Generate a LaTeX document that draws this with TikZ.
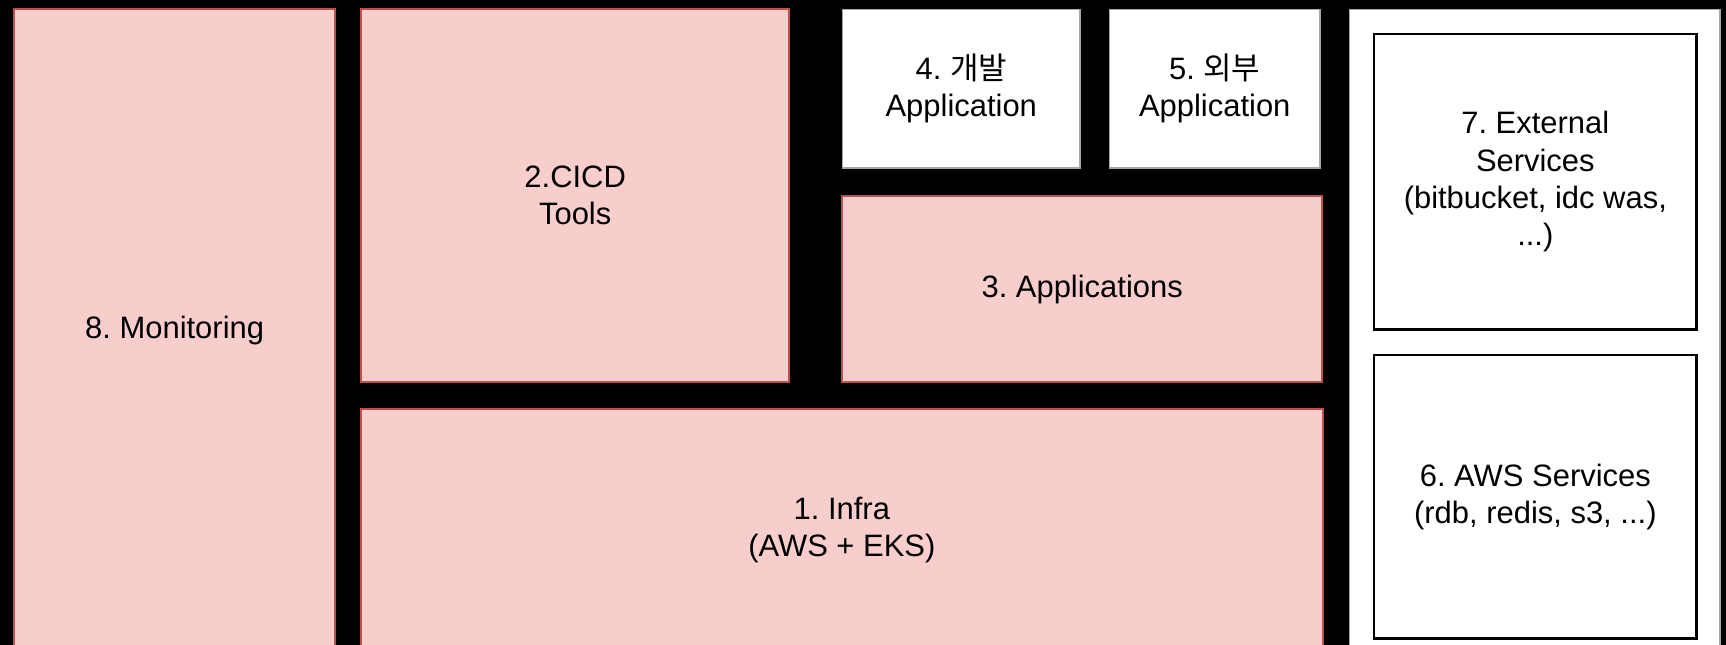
\documentclass[tikz,border=0pt]{standalone}
\usepackage{fontspec}
\setmainfont{Liberation Sans}
\newfontfamily\krfont{Noto Sans CJK KR}
\usetikzlibrary{positioning}
\definecolor{layerfill}{HTML}{F8CECC}
\definecolor{layerline}{HTML}{B85450}
\frenchspacing

\begin{document}
\begin{tikzpicture}[x=0.01cm,y=-0.01cm,font=\fontsize{8.8}{10.6}\selectfont,
  layer/.style={draw=layerline,fill=layerfill,line width=0.6pt,align=center,anchor=north west,inner sep=0pt},
  appbox/.style={draw=black!35,fill=white,line width=0.4pt,align=center,anchor=north west,inner sep=0pt},
  svcbox/.style={draw=black,fill=white,line width=0.7pt,align=center,anchor=north west,inner sep=0pt}]
\useasboundingbox (0,0) rectangle (1726,645);
\clip (0,0) rectangle (1726,645);
\fill[black] (0,0) rectangle (1726,645);
\node[layer,minimum width=3.21cm,minimum height=6.42cm] (mon) at (13,8) {8. Monitoring};
\node[layer,minimum width=4.28cm,minimum height=3.73cm] (cicd) at (360,8) {2.CICD\\ Tools};
\node[appbox,minimum width=2.37cm,minimum height=1.58cm] (dev) at (842,9) {4. {\krfont 개발}\\ Application};
\node[appbox,minimum width=2.10cm,minimum height=1.58cm] (ext) at (1109,9) {5. {\krfont 외부}\\ Application};
\node[layer,minimum width=4.80cm,minimum height=1.86cm] (apps) at (841,195) {3. Applications};
\node[layer,minimum width=9.61cm,minimum height=2.42cm] (infra) at (360,408) {1. Infra\\ (AWS + EKS)};
\node[appbox,minimum width=3.70cm,minimum height=6.51cm] (panel) at (1349,9) {};
\node[svcbox,minimum width=3.22cm,minimum height=2.95cm] (extsvc) at (1373,33) {7. External\\ Services\\ (bitbucket, idc was,\\ ...)};
\node[svcbox,minimum width=3.22cm,minimum height=2.83cm] (awssvc) at (1373,354) {6. AWS Services\\ (rdb, redis, s3, ...)};
\end{tikzpicture}
\end{document}
